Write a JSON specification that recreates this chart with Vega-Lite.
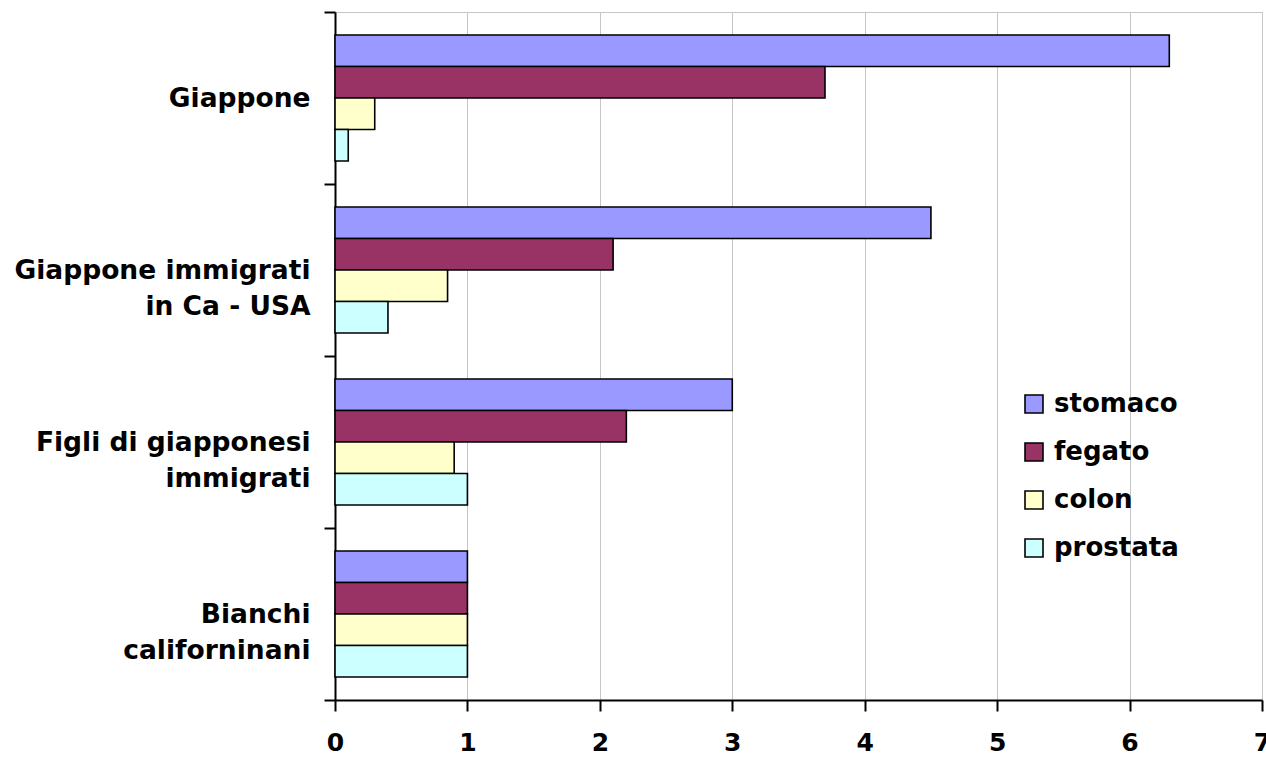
{
  "$schema": "https://vega.github.io/schema/vega-lite/v6.json",
  "width": 927,
  "height": 688,
  "autosize": {"type": "none"},
  "padding": {"left": 335, "top": 12, "right": 4, "bottom": 58},
  "background": "white",
  "config": {
    "view": {"stroke": "#c6c6c6", "strokeWidth": 1},
    "font": "DejaVu Sans"
  },
  "data": {
    "values": [
      {"gruppo": "Giappone", "sede": "stomaco", "valore": 6.3},
      {"gruppo": "Giappone", "sede": "fegato", "valore": 3.7},
      {"gruppo": "Giappone", "sede": "colon", "valore": 0.3},
      {"gruppo": "Giappone", "sede": "prostata", "valore": 0.1},
      {"gruppo": "Giappone immigrati in Ca - USA", "sede": "stomaco", "valore": 4.5},
      {"gruppo": "Giappone immigrati in Ca - USA", "sede": "fegato", "valore": 2.1},
      {"gruppo": "Giappone immigrati in Ca - USA", "sede": "colon", "valore": 0.85},
      {"gruppo": "Giappone immigrati in Ca - USA", "sede": "prostata", "valore": 0.4},
      {"gruppo": "Figli di giapponesi immigrati", "sede": "stomaco", "valore": 3.0},
      {"gruppo": "Figli di giapponesi immigrati", "sede": "fegato", "valore": 2.2},
      {"gruppo": "Figli di giapponesi immigrati", "sede": "colon", "valore": 0.9},
      {"gruppo": "Figli di giapponesi immigrati", "sede": "prostata", "valore": 1.0},
      {"gruppo": "Bianchi californinani", "sede": "stomaco", "valore": 1.0},
      {"gruppo": "Bianchi californinani", "sede": "fegato", "valore": 1.0},
      {"gruppo": "Bianchi californinani", "sede": "colon", "valore": 1.0},
      {"gruppo": "Bianchi californinani", "sede": "prostata", "valore": 1.0}
    ]
  },
  "mark": {"type": "bar", "stroke": "black", "strokeWidth": 1.6},
  "encoding": {
    "y": {
      "field": "gruppo",
      "type": "nominal",
      "sort": ["Giappone", "Giappone immigrati in Ca - USA", "Figli di giapponesi immigrati", "Bianchi californinani"],
      "scale": {"paddingInner": 0, "paddingOuter": 0},
      "axis": {
        "title": null,
        "tickBand": "extent",
        "domainColor": "black",
        "domainWidth": 2,
        "tickColor": "black",
        "tickWidth": 2,
        "tickSize": 11,
        "labelPadding": 14,
        "labelFont": "DejaVu Sans",
        "labelFontWeight": "bold",
        "labelFontSize": 26.5,
        "labelColor": "black",
        "labelLineHeight": 36,
        "labelLimit": 400,
        "labelExpr": "datum.value == 'Giappone immigrati in Ca - USA' ? ['Giappone immigrati', 'in Ca - USA'] : datum.value == 'Figli di giapponesi immigrati' ? ['Figli di giapponesi', 'immigrati'] : datum.value == 'Bianchi californinani' ? ['Bianchi', 'californinani'] : datum.value"
      }
    },
    "yOffset": {
      "field": "sede",
      "type": "nominal",
      "sort": ["stomaco", "fegato", "colon", "prostata"],
      "scale": {"paddingInner": 0, "paddingOuter": 0.73}
    },
    "x": {
      "field": "valore",
      "type": "quantitative",
      "scale": {"domain": [0, 7], "nice": false},
      "axis": {
        "title": null,
        "values": [0, 1, 2, 3, 4, 5, 6, 7],
        "format": "d",
        "grid": true,
        "gridColor": "#c6c6c6",
        "gridWidth": 1,
        "domainColor": "black",
        "domainWidth": 2,
        "tickColor": "black",
        "tickWidth": 2,
        "tickSize": 11,
        "labelPadding": 19,
        "labelFont": "DejaVu Sans",
        "labelFontWeight": "bold",
        "labelFontSize": 25,
        "labelColor": "black",
        "labelFlush": false
      }
    },
    "color": {
      "field": "sede",
      "type": "nominal",
      "scale": {
        "domain": ["stomaco", "fegato", "colon", "prostata"],
        "range": ["#9999ff", "#993366", "#ffffcc", "#ccffff"]
      },
      "legend": {
        "title": null,
        "orient": "none",
        "legendX": 686,
        "legendY": 379,
        "padding": 0,
        "symbolType": "square",
        "symbolSize": 324,
        "symbolOpacity": 1,
        "symbolStrokeColor": "black",
        "symbolStrokeWidth": 1.6,
        "labelFont": "DejaVu Sans",
        "labelFontWeight": "bold",
        "labelFontSize": 26,
        "labelColor": "black",
        "labelOffset": 7,
        "rowPadding": 22
      }
    }
  }
}
